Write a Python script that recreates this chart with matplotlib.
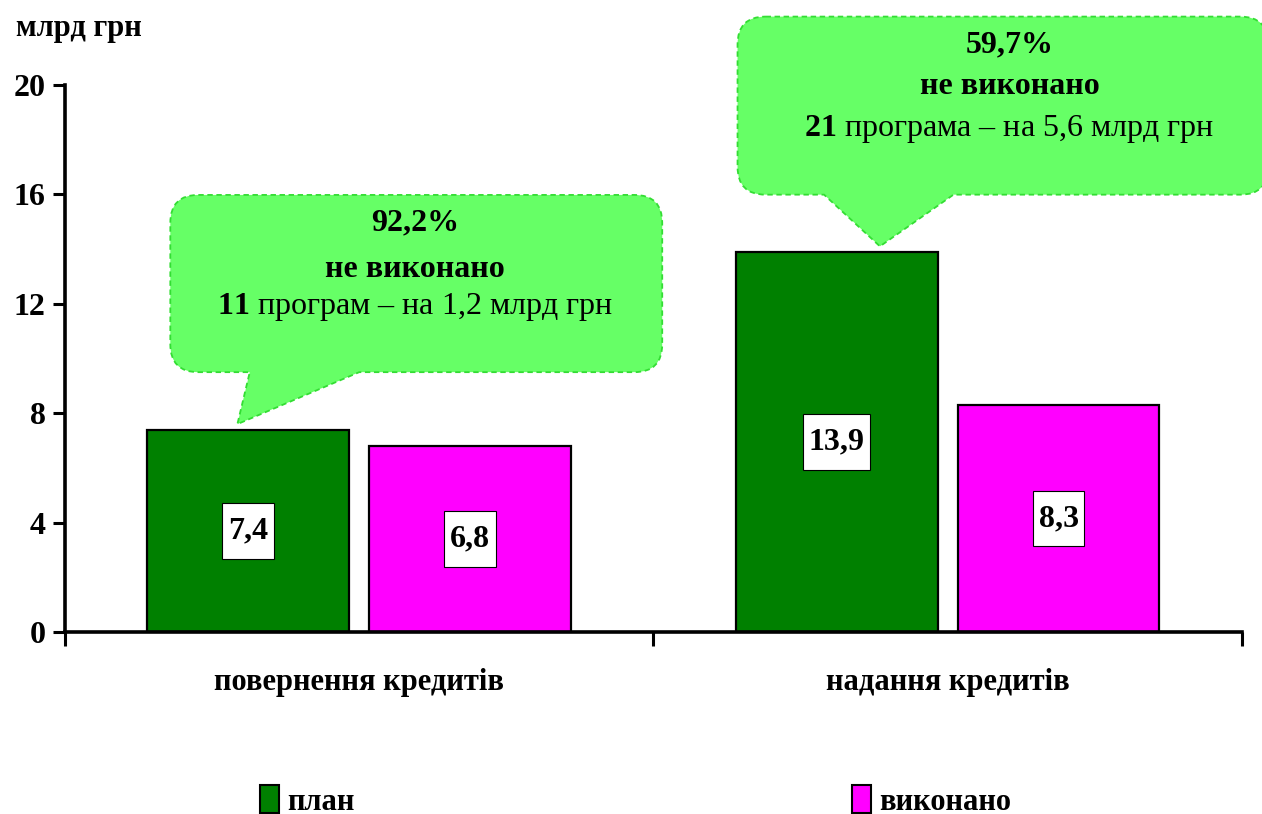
import matplotlib
matplotlib.use("Agg")
import matplotlib.pyplot as plt
import numpy as np
from matplotlib.path import Path
from matplotlib.patches import PathPatch, Patch

plt.rcParams["font.family"] = ["Liberation Serif", "DejaVu Serif"]
plt.rcParams["mathtext.fontset"] = "custom"
plt.rcParams["mathtext.rm"] = "Liberation Serif"
plt.rcParams["mathtext.bf"] = "Liberation Serif:bold"

categories = ["повернення кредитів", "надання кредитів"]
plan = [7.4, 13.9]
done = [6.8, 8.3]
series_names = ["план", "виконано"]
value_labels_plan = ["7,4", "13,9"]
value_labels_done = ["6,8", "8,3"]
yticks = [0, 4, 8, 12, 16, 20]

# callout texts: (percent, status, count, rest)
callouts = [
    ("92,2%", "не виконано", "11", "програм – на 1,2 млрд грн"),
    ("59,7%", "не виконано", "21", "програма – на 5,6 млрд грн"),
]

GREEN = "#008000"
MAGENTA = "#FF00FF"
BUBBLE = "#66FF66"
BUBBLE_EDGE = "#33DD33"

fig = plt.figure(figsize=(12.62, 8.14), dpi=100)
ax = fig.add_axes([0.0515, 0.2236, 0.9325, 0.672])

x = np.arange(len(categories))
w = 0.343
off = 0.1886
ax.bar(x - off, plan, w, color=GREEN, edgecolor="black", linewidth=1.6, zorder=2)
ax.bar(x + off, done, w, color=MAGENTA, edgecolor="black", linewidth=1.6, zorder=2)


def label_box(x0, y0, width, height, mutation_size):
    # white box around value labels: narrow sides, taller top/bottom
    px_, py_ = 0.18 * mutation_size, 0.42 * mutation_size
    x0, y0 = x0 - px_, y0 - py_
    x1, y1 = x0 + width + 2 * px_, y0 + height + 2 * py_
    return Path([(x0, y0), (x1, y0), (x1, y1), (x0, y1), (x0, y0)], closed=True)


box = dict(boxstyle=label_box, facecolor="white", edgecolor="black", linewidth=0.8)
for xi, v, s in zip(x - off, plan, value_labels_plan):
    ax.text(xi, v / 2, s, ha="center", va="center", fontsize=23, fontweight="bold", bbox=box, zorder=3)
for xi, v, s in zip(x + off, done, value_labels_done):
    ax.text(xi, v / 2, s, ha="center", va="center", fontsize=23, fontweight="bold", bbox=box, zorder=3)

ax.set_xlim(-0.5, 1.5)
ax.set_ylim(0, 20)
ax.set_yticks(yticks)
ax.set_yticklabels([str(t) for t in yticks], fontsize=23, fontweight="bold")
ax.set_xticks(x)
ax.set_xticklabels(categories, fontsize=22, fontweight="bold")
ax.set_xticks([-0.5, 0.5, 1.5], minor=True)
ax.tick_params(axis="x", which="major", length=0, pad=26)
ax.tick_params(axis="x", which="minor", length=10, width=2.2, direction="out")
ax.tick_params(axis="y", length=9, width=2.2, pad=5)
for side in ["top", "right"]:
    ax.spines[side].set_visible(False)
for side in ["left", "bottom"]:
    ax.spines[side].set_linewidth(2.6)

fig.text(0.013, 0.965, "млрд грн", fontsize=22, fontweight="bold", ha="left", va="center")


def bubble(x0, x1, y0, y1, base0, base1, tip, r=28):
    """Rounded box (pixel coords) with a pointer going down from the bottom edge."""
    verts = [
        (x0 + r, y1), (x1 - r, y1), (x1, y1), (x1, y1 - r),
        (x1, y0 + r), (x1, y0), (x1 - r, y0),
        (base1, y0), tip, (base0, y0),
        (x0 + r, y0), (x0, y0), (x0, y0 + r),
        (x0, y1 - r), (x0, y1), (x0 + r, y1),
    ]
    codes = [
        Path.MOVETO, Path.LINETO, Path.CURVE3, Path.CURVE3,
        Path.LINETO, Path.CURVE3, Path.CURVE3,
        Path.LINETO, Path.LINETO, Path.LINETO,
        Path.LINETO, Path.CURVE3, Path.CURVE3,
        Path.LINETO, Path.CURVE3, Path.CURVE3,
    ]
    return Path(verts, codes)


def px(xd, yd):
    return ax.transData.transform((xd, yd))


# bubble geometry in data units, anchored to the plan bars
shapes = [
    dict(x0=-0.321, x1=0.515, y0=9.5, y1=15.98, b0=-0.186, b1=0.0, tip=(-0.207, 7.6),
         tx=0.095, ty=[14.95, 13.25, 11.9]),
    dict(x0=0.643, x1=1.545, y0=15.99, y1=22.5, b0=0.79, b1=1.01, tip=(0.885, 14.1),
         tx=1.105, ty=[21.45, 19.95, 18.4]),
]

for sh, (pct, status, cnt, rest) in zip(shapes, callouts):
    x0, y0 = px(sh["x0"], sh["y0"])
    x1, y1 = px(sh["x1"], sh["y1"])
    b0 = px(sh["b0"], 0)[0]
    b1 = px(sh["b1"], 0)[0]
    tip = px(*sh["tip"])
    path = bubble(x0, x1, y0, y1, b0, b1, tuple(tip))
    path = Path(fig.transFigure.inverted().transform(path.vertices), path.codes)
    patch = PathPatch(path, facecolor=BUBBLE, edgecolor=BUBBLE_EDGE, linewidth=1.3,
                      linestyle=(0, (3, 2)), transform=fig.transFigure, zorder=4,
                      clip_on=False)
    ax.add_patch(patch)
    kw = dict(ha="center", va="center", fontsize=23, zorder=5, clip_on=False)
    ax.text(sh["tx"], sh["ty"][0], pct, fontweight="bold", **kw)
    ax.text(sh["tx"], sh["ty"][1], status, fontweight="bold", **kw)
    ax.text(sh["tx"], sh["ty"][2], r"$\mathbf{" + cnt + "}$ " + rest, **kw)

handles = [Patch(facecolor=GREEN, edgecolor="black", linewidth=1.5),
           Patch(facecolor=MAGENTA, edgecolor="black", linewidth=1.5)]
fig.legend(handles, series_names, loc="center", bbox_to_anchor=(0.5036, 0.016),
           ncol=2, frameon=False, columnspacing=16.3, handlelength=0.62,
           handleheight=1.0, handletextpad=0.25,
           prop={"family": "Liberation Serif", "weight": "bold", "size": 22})

fig.savefig("out.png", dpi=100)
